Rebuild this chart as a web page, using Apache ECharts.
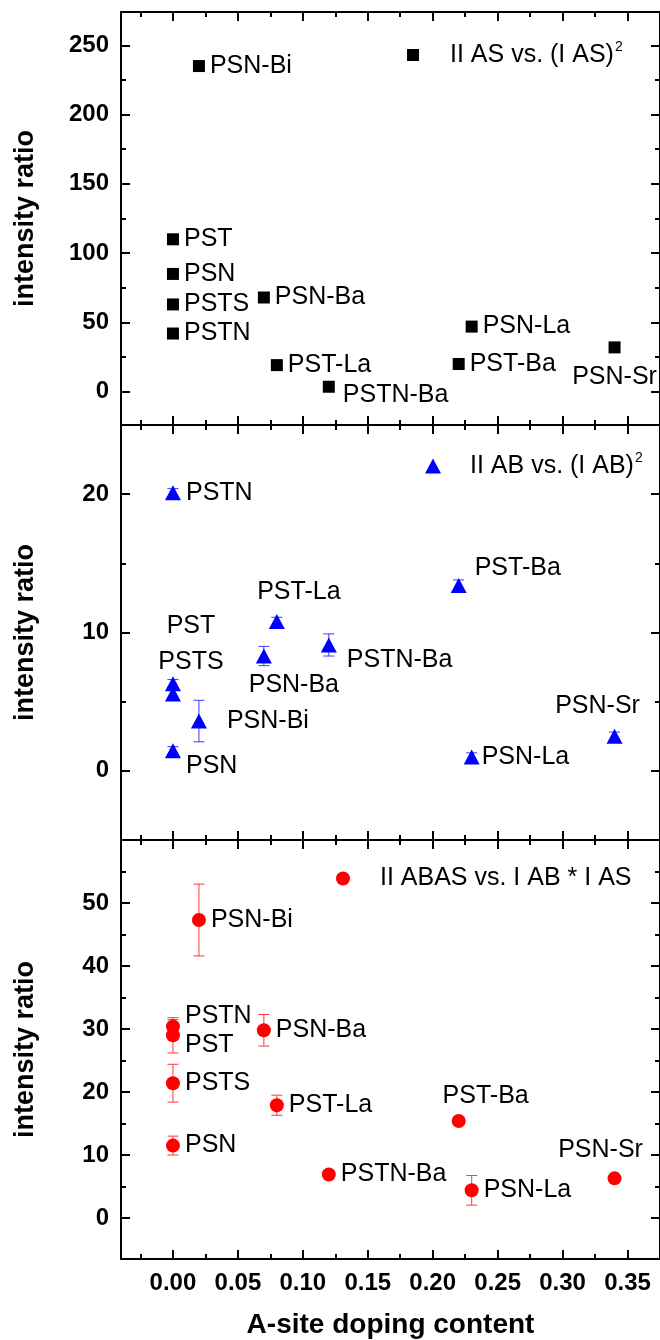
<!DOCTYPE html>
<html>
<head>
<meta charset="utf-8">
<script src="https://cdn.jsdelivr.net/npm/echarts@6/dist/echarts.min.js"></script>
<style>
  html, body { margin: 0; padding: 0; background: #fff; }
  #chart { width: 660px; height: 1340px; }
</style>
</head>
<body>
<div id="chart"></div>
<script>
// Samples and their A-site doping content (shared by all three panels)
const samples = ['PST', 'PSN', 'PSTS', 'PSTN', 'PSN-Bi', 'PSN-Ba', 'PST-La', 'PSTN-Ba', 'PST-Ba', 'PSN-La', 'PSN-Sr'];
const doping  = [0, 0, 0, 0, 0.02, 0.07, 0.08, 0.12, 0.22, 0.23, 0.34];

// Intensity ratios
const ratioAS   = [110, 85, 63, 42, 235, 68, 19.2, 3.6, 20, 47, 32];
const ratioAB   = [6.3, 1.45, 5.55, 20.1, 3.6, 8.3, 10.8, 9.1, 13.4, 1.0, 2.5];
const errAB     = [0.3, 0.3, 0.4, 0.3, 1.5, 0.7, 0.3, 0.8, 0.4, 0.3, 0.3];
const ratioABAS = [29.0, 11.5, 21.4, 30.4, 47.3, 29.8, 17.9, 6.9, 15.4, 4.4, 6.3];
const errABAS   = [2.8, 1.5, 3.0, 1.1, 5.7, 2.5, 1.6, 0.5, 0.5, 2.35, 0.5];

// Tick values
const xMajorTicks = [0, 0.05, 0.10, 0.15, 0.20, 0.25, 0.30, 0.35];
const xMinorTicks = [-0.025, 0.025, 0.075, 0.125, 0.175, 0.225, 0.275, 0.325];
const yMajorAS    = [0, 50, 100, 150, 200, 250];
const yMinorAS    = [25, 75, 125, 175, 225];
const yMajorAB    = [0, 10, 20];
const yMinorAB    = [5, 15];
const yMajorABAS  = [0, 10, 20, 30, 40, 50];
const yMinorABAS  = [5, 15, 25, 35, 45, 55];

// Series names
const nameAS   = 'II AS vs. (I AS)^2';
const nameAB   = 'II AB vs. (I AB)^2';
const nameABAS = 'II ABAS vs. I AB * I AS';

// Label placement per sample: [position, dx, dy]
const placeAS = { 'PSTN-Ba': ['right', 3, 8], 'PSN-Sr': ['inside', 0, 30] };
const placeAB = {
  'PST': ['inside', 18, -58], 'PSTS': ['inside', 18, -32], 'PSN': ['right', 0, 15],
  'PSN-Bi': ['right', 15, 0], 'PSN-Ba': ['inside', 30, 29], 'PST-La': ['inside', 22, -29],
  'PSTN-Ba': ['right', 5, 15], 'PST-Ba': ['right', 3, -17], 'PSN-La': ['right', -3, 0],
  'PSN-Sr': ['inside', -17, -30]
};
const placeABAS = {
  'PSTN': ['right', 0, -10], 'PST': ['right', 0, 10],
  'PST-Ba': ['inside', 27, -25], 'PSN-Sr': ['inside', -14, -28]
};

const FONT = "'Liberation Sans', Arial, Helvetica, sans-serif";
const X_MIN = -0.04, X_MAX = 0.375;
const grids = [
  { top: 12,  height: 413 },
  { top: 425, height: 415 },
  { top: 840, height: 425 }
];
const yRanges = [
  { min: -24,  max: 274, major: yMajorAS,   minor: yMinorAS },
  { min: -5,   max: 25,  major: yMajorAB,   minor: yMinorAB },
  { min: -6.5, max: 60,  major: yMajorABAS, minor: yMinorABAS }
];

const black = '#000';
function tick(len, values) {
  return { show: true, inside: true, length: len, customValues: values, lineStyle: { color: black, width: 2 } };
}

const xAxes = [], yAxes = [];
grids.forEach((g, i) => {
  const last = i === grids.length - 1;
  const xb = { type: 'value', gridIndex: i, min: X_MIN, max: X_MAX, splitLine: { show: false },
               axisLine: { show: true, onZero: false, lineStyle: { color: black, width: 2 } } };
  xAxes.push(Object.assign({}, xb, {
    position: 'bottom', axisTick: tick(9, xMajorTicks),
    axisLabel: { show: last, customValues: xMajorTicks, margin: 12, formatter: v => v.toFixed(2),
                 color: black, fontSize: 24, fontWeight: 'bold', fontFamily: FONT },
    name: last ? 'A-site doping content' : '', nameLocation: 'middle', nameGap: 52,
    nameTextStyle: { color: black, fontSize: 28, fontWeight: 'bold', fontFamily: FONT }
  }));
  xAxes.push(Object.assign({}, xb, { position: 'bottom', axisLine: { show: false, onZero: false },
    axisTick: tick(5, xMinorTicks), axisLabel: { show: false } }));
  xAxes.push(Object.assign({}, xb, { position: 'top', axisTick: tick(9, xMajorTicks), axisLabel: { show: false } }));
  xAxes.push(Object.assign({}, xb, { position: 'top', axisLine: { show: false, onZero: false },
    axisTick: tick(5, xMinorTicks), axisLabel: { show: false } }));

  const r = yRanges[i];
  const yb = { type: 'value', gridIndex: i, min: r.min, max: r.max, splitLine: { show: false },
               axisLine: { show: true, onZero: false, lineStyle: { color: black, width: 2 } } };
  yAxes.push(Object.assign({}, yb, {
    position: 'left', axisTick: tick(9, r.major),
    axisLabel: { show: true, customValues: r.major, margin: 12, color: black, fontSize: 24,
                 fontWeight: 'bold', fontFamily: FONT },
    name: 'intensity ratio', nameLocation: 'middle', nameGap: 82, nameRotate: 90,
    nameTextStyle: { color: black, fontSize: 27, fontWeight: 'bold', fontFamily: FONT }
  }));
  yAxes.push(Object.assign({}, yb, { position: 'left', axisLine: { show: false, onZero: false },
    axisTick: tick(5, r.minor), axisLabel: { show: false } }));
  yAxes.push(Object.assign({}, yb, { position: 'right', axisTick: tick(9, r.major), axisLabel: { show: false } }));
  yAxes.push(Object.assign({}, yb, { position: 'right', axisLine: { show: false, onZero: false },
    axisTick: tick(5, r.minor), axisLabel: { show: false } }));
});

function points(values, place) {
  return samples.map((s, k) => {
    const p = place[s] || ['right', 0, 0];
    return { name: s, value: [doping[k], values[k]], label: { position: p[0], offset: [p[1], p[2]] } };
  });
}
function errors(values, errs) {
  return samples.map((s, k) => [doping[k], values[k], errs[k]]);
}
function errorBarRenderer(color) {
  return function (params, api) {
    const x = api.value(0), y = api.value(1), e = api.value(2);
    const hi = api.coord([x, y + e]);
    const lo = api.coord([x, y - e]);
    const cap = 5.5;
    const style = { stroke: color, lineWidth: 1 };
    return {
      type: 'group',
      children: [
        { type: 'line', shape: { x1: hi[0], y1: hi[1], x2: lo[0], y2: lo[1] }, style },
        { type: 'line', shape: { x1: hi[0] - cap, y1: hi[1], x2: hi[0] + cap, y2: hi[1] }, style },
        { type: 'line', shape: { x1: lo[0] - cap, y1: lo[1], x2: lo[0] + cap, y2: lo[1] }, style }
      ]
    };
  };
}
const labelStyle = { show: true, formatter: '{b}', color: black, fontSize: 25, fontFamily: FONT };

const series = [
  { type: 'scatter', name: nameAS, xAxisIndex: 0, yAxisIndex: 0, symbol: 'rect', symbolSize: 12,
    itemStyle: { color: '#000', opacity: 1 }, label: labelStyle, data: points(ratioAS, placeAS), z: 3 },

  { type: 'custom', name: 'errAB', xAxisIndex: 4, yAxisIndex: 4, renderItem: errorBarRenderer('#3a3aff'),
    encode: { x: 0, y: 1 }, data: errors(ratioAB, errAB), z: 2 },
  { type: 'scatter', name: nameAB, xAxisIndex: 4, yAxisIndex: 4, symbol: 'triangle', symbolSize: [16, 15],
    itemStyle: { color: '#0000ff', opacity: 1 }, label: labelStyle, data: points(ratioAB, placeAB), z: 3 },

  { type: 'custom', name: 'errABAS', xAxisIndex: 8, yAxisIndex: 8, renderItem: errorBarRenderer('#ff3a3a'),
    encode: { x: 0, y: 1 }, data: errors(ratioABAS, errABAS), z: 2 },
  { type: 'scatter', name: nameABAS, xAxisIndex: 8, yAxisIndex: 8, symbol: 'circle', symbolSize: 14,
    itemStyle: { color: '#ff0000', opacity: 1 }, label: labelStyle, data: points(ratioABAS, placeABAS), z: 3 }
];

function legendText(main, sup, padLeft) {
  return {
    formatter: () => sup ? '{t|' + main + '}{s|' + sup + '}' : '{t|' + main + '}',
    textStyle: {
      rich: {
        t: { fontSize: 25, lineHeight: 30, fontFamily: FONT, color: black, padding: [0, 0, 0, padLeft] },
        s: { fontSize: 14, lineHeight: 14, fontFamily: FONT, color: black, verticalAlign: 'top', padding: [0, 0, 0, 1] }
      }
    }
  };
}
const legends = [
  Object.assign({ data: [nameAS], left: 407, top: 40, itemWidth: 12, itemHeight: 12 },
                legendText('II AS vs. (I AS)', '2', 26)),
  Object.assign({ data: [nameAB], left: 425, top: 451, itemWidth: 16, itemHeight: 15 },
                legendText('II AB vs. (I AB)', '2', 24)),
  Object.assign({ data: [nameABAS], left: 336, top: 866, itemWidth: 14, itemHeight: 14 },
                legendText('II ABAS vs. I AB * I AS', '', 25))
].map(l => Object.assign(l, { orient: 'horizontal', padding: 0, selectedMode: false }));

const chart = echarts.init(document.getElementById('chart'), null, { renderer: 'canvas' });
chart.setOption({
  animation: false,
  backgroundColor: '#fff',
  grid: grids.map(g => ({ left: 121, width: 540, top: g.top, height: g.height, containLabel: false })),
  xAxis: xAxes,
  yAxis: yAxes,
  legend: legends,
  series: series
});
</script>
</body>
</html>
